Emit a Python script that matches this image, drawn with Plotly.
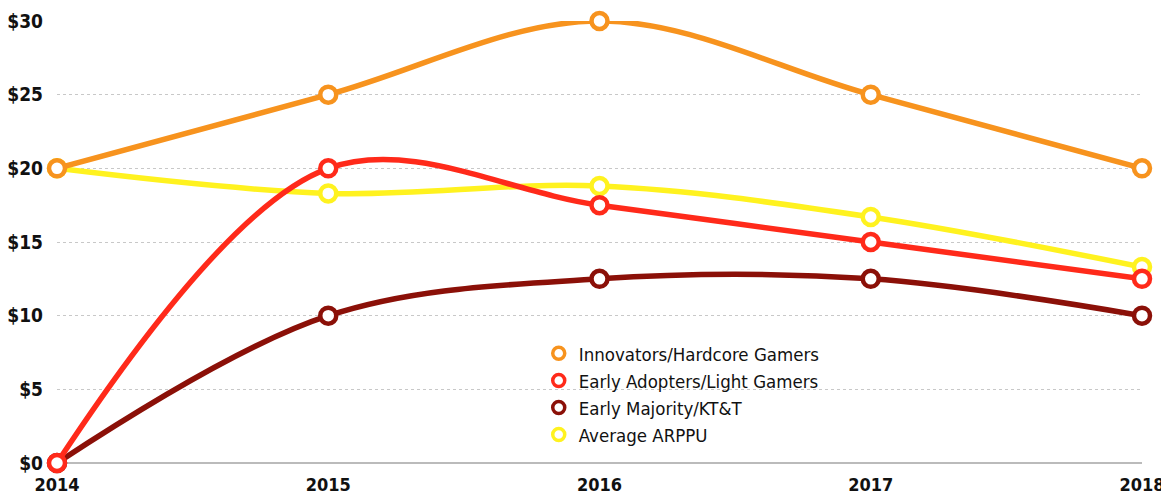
import plotly.graph_objects as go

years = [2014, 2015, 2016, 2017, 2018]
innovators = [20, 25, 30, 25, 20]
early_adopters = [0, 20, 17.5, 15, 12.5]
early_majority = [0, 10, 12.5, 12.5, 10]
average_arppu = [20, 18.3, 18.8, 16.7, 13.3]
y_ticks = [0, 5, 10, 15, 20, 25, 30]
y_labels = ["$0", "$5", "$10", "$15", "$20", "$25", "$30"]

names = ["Innovators/Hardcore Gamers", "Early Adopters/Light Gamers",
         "Early Majority/KT&T", "Average ARPPU"]
colors = ["#F7931E", "#FF2A1A", "#8B1008", "#FFF21F"]
series = [innovators, early_adopters, early_majority, average_arppu]

FONT = "DejaVu Sans Condensed, Liberation Sans Narrow, DejaVu Sans"

fig = go.Figure()
order = [3, 2, 1, 0]
for i in order:
    fig.add_trace(go.Scatter(
        x=years, y=series[i], mode="lines+markers", name=names[i],
        line=dict(color=colors[i], width=5.5, shape="spline", smoothing=1.0),
        marker=dict(symbol="circle", size=16, color="white",
                    line=dict(color=colors[i], width=4.5)),
        cliponaxis=False, showlegend=False))
for i in range(4):
    fig.add_trace(go.Scatter(
        x=[None], y=[None], mode="markers", name=names[i],
        marker=dict(symbol="circle", size=12, color="white",
                    line=dict(color=colors[i], width=3.5)),
        showlegend=True))

fig.update_layout(
    width=1161, height=492,
    margin=dict(l=49, r=27, t=13, b=37, autoexpand=False),
    paper_bgcolor="white", plot_bgcolor="white",
    font=dict(family=FONT, size=18, color="#111111"),
    legend=dict(x=0.444, y=0.29, xanchor="left", yanchor="top",
                bgcolor="rgba(0,0,0,0)",
                font=dict(size=18.5, family=FONT, color="#111111"),
                itemwidth=30, tracegroupgap=0),
    xaxis=dict(range=[2014, 2018], tickvals=years, ticktext=[str(y) for y in years],
               showgrid=False, zeroline=False, showline=False, automargin=False,
               tickfont=dict(size=18, family=FONT, weight="bold"),
               ticks="", ticklen=0, ticklabelstandoff=9),
    yaxis=dict(range=[0, 30], tickvals=y_ticks, ticktext=y_labels, automargin=False,
               showgrid=True, gridcolor="#C8C8C8", griddash="dot", gridwidth=1,
               zeroline=True, zerolinecolor="#BBBBBB", zerolinewidth=2,
               showline=False, ticks="", ticklabelstandoff=13,
               tickfont=dict(size=19, family=FONT, weight="bold")),
)
fig.write_html("out.html")
